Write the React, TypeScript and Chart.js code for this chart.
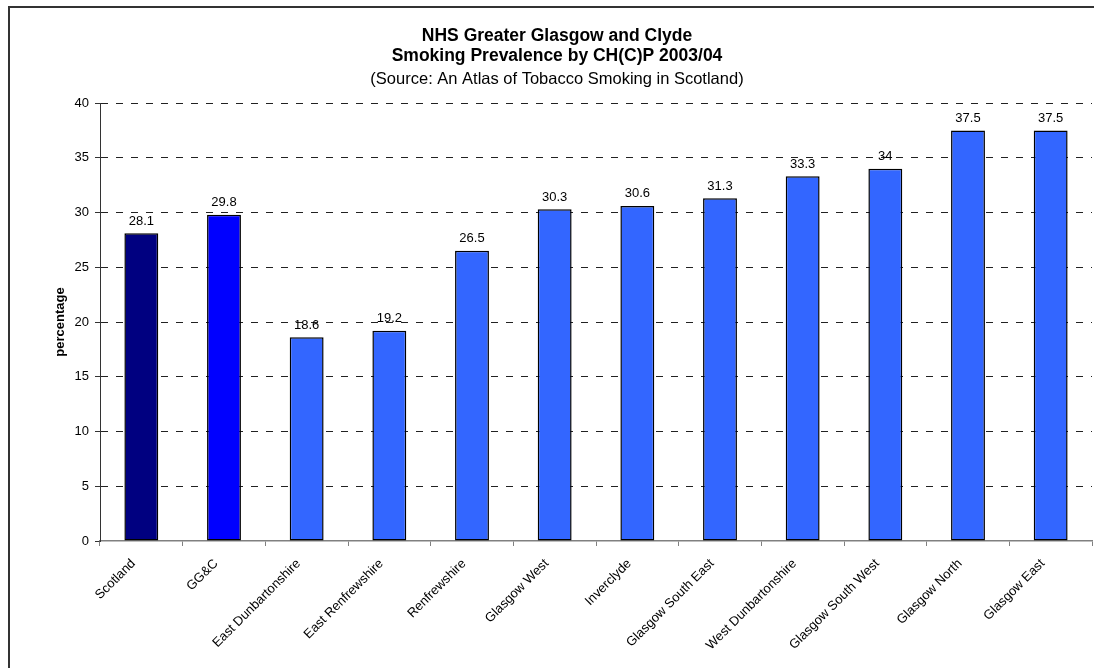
import React, { useEffect, useRef } from "react";
import { Chart, registerables } from "chart.js";

Chart.register(...registerables);

const categories = [
  "Scotland",
  "GG&C",
  "East Dunbartonshire",
  "East Renfrewshire",
  "Renfrewshire",
  "Glasgow West",
  "Inverclyde",
  "Glasgow South East",
  "West Dunbartonshire",
  "Glasgow South West",
  "Glasgow North",
  "Glasgow East",
];
const values = [28.1, 29.8, 18.6, 19.2, 26.5, 30.3, 30.6, 31.3, 33.3, 34, 37.5, 37.5];
const barColors = [
  "#000080",
  "#0000FF",
  "#3366FF",
  "#3366FF",
  "#3366FF",
  "#3366FF",
  "#3366FF",
  "#3366FF",
  "#3366FF",
  "#3366FF",
  "#3366FF",
  "#3366FF",
];
const yMin = 0;
const yMax = 40;
const yStep = 5;
const titleLines = ["NHS Greater Glasgow and Clyde", "Smoking Prevalence by CH(C)P 2003/04"];
const subtitleText = "(Source: An Atlas of Tobacco Smoking in Scotland)";
const yAxisTitle = "percentage";

const FONT = "'Liberation Sans', Arial, Helvetica, sans-serif";
const W = 1094;
const H = 668;

const textPlugin = {
  id: "textPlugin",
  afterDatasetsDraw(chart: any) {
    const ctx = chart.ctx;
    const meta = chart.getDatasetMeta(0);
    ctx.save();
    ctx.font = `13px ${FONT}`;
    ctx.fillStyle = "#000";
    ctx.textAlign = "center";
    ctx.textBaseline = "alphabetic";
    meta.data.forEach((el: any, i: number) => {
      ctx.fillText(String(values[i]), el.x, el.y - 8.5);
    });
    ctx.restore();
  },
  afterDraw(chart: any) {
    const ctx = chart.ctx;
    const cx = 557;
    ctx.save();
    ctx.fillStyle = "#000";
    ctx.textAlign = "center";
    ctx.textBaseline = "alphabetic";
    ctx.font = `bold 17.5px ${FONT}`;
    ctx.fillText(titleLines[0], cx, 41);
    ctx.fillText(titleLines[1], cx, 61);
    ctx.font = `16.5px ${FONT}`;
    ctx.fillText(subtitleText, cx, 84);
    const area = chart.chartArea;
    ctx.translate(60.5, (area.top + area.bottom) / 2);
    ctx.rotate(-Math.PI / 2);
    ctx.font = `bold 13px ${FONT}`;
    ctx.textBaseline = "middle";
    ctx.fillText(yAxisTitle, 0, 0);
    ctx.restore();
  },
};

export default function App() {
  const ref = useRef<HTMLCanvasElement | null>(null);

  useEffect(() => {
    const canvas = ref.current;
    if (!canvas) return;
    const chart = new Chart(canvas, {
      type: "bar",
      data: {
        labels: categories,
        datasets: [
          {
            data: values,
            backgroundColor: barColors,
            borderColor: "#000",
            borderWidth: 1.5,
            borderSkipped: false,
            barPercentage: 0.41,
            categoryPercentage: 1,
          },
        ],
      },
      options: {
        responsive: false,
        animation: false,
        devicePixelRatio: 1,
        layout: { padding: { top: 103, left: 0, right: 2, bottom: 0 } },
        plugins: {
          legend: { display: false },
          tooltip: { enabled: false },
          title: { display: false },
        },
        scales: {
          x: {
            offset: true,
            grid: {
              offset: true,
              drawOnChartArea: false,
              drawTicks: true,
              tickLength: 5,
              color: "#808080",
              tickColor: "#808080",
            },
            border: { color: "#808080", width: 1.5 },
            ticks: {
              autoSkip: false,
              minRotation: 45,
              maxRotation: 45,
              color: "#000",
              font: { family: FONT, size: 13 },
              padding: 10,
              labelOffset: -8,
            },
            afterFit(scale: any) {
              scale.height = 127;
              scale.paddingLeft = 0;
              scale.paddingRight = 0;
            },
          },
          y: {
            min: yMin,
            max: yMax,
            grid: {
              color: (c: any) => (c.tick && c.tick.value === 0 ? "rgba(0,0,0,0)" : "#222"),
              tickColor: "#333",
              tickLength: 5,
              lineWidth: 1,
            },
            border: { color: "#333", width: 1, dash: [7, 8] },
            ticks: {
              stepSize: yStep,
              color: "#000",
              font: { family: FONT, size: 13 },
              padding: 6,
            },
            afterFit(scale: any) {
              scale.width = 100;
            },
          },
        },
      },
      plugins: [textPlugin],
    });
    return () => chart.destroy();
  }, []);

  return (
    <div
      style={{
        position: "absolute",
        left: 0,
        top: 0,
        width: W,
        height: H,
        overflow: "hidden",
        background: "#fff",
      }}
    >
      <div
        style={{
          position: "absolute",
          left: 8,
          top: 6,
          width: 1110,
          height: 700,
          border: "2px solid #333",
          boxSizing: "border-box",
        }}
      />
      <canvas
        ref={ref}
        width={W}
        height={H}
        style={{ position: "absolute", left: 0, top: 0, width: W, height: H }}
      />
    </div>
  );
}
